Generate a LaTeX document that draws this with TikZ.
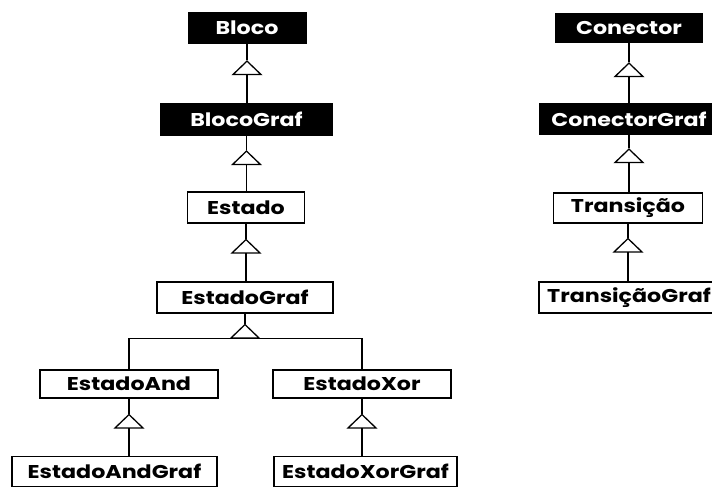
\documentclass[tikz,border=0pt]{standalone}
\usepackage{fontspec}
\setmainfont{Poppins}[FakeStretch=1.2]
\usetikzlibrary{arrows.meta}

\newcommand\classfont{\fontsize{18.5}{18.5}\selectfont\bfseries}
\newcommand\classline{1.3pt}

\tikzset{
  baseclass/.style={fill=black, text=white, font=\classfont, inner sep=0pt},
  subclass/.style={draw, line width=\classline, fill=white, font=\classfont, inner sep=0pt},
  link/.style={line width=\classline},
  inherit/.style={line width=\classline, {Triangle[open, length=15pt, width=31pt]}-},
}

\begin{document}
\begin{tikzpicture}[x=1pt,y=-1pt]
  \useasboundingbox (0,0) rectangle (712,487);

  % left hierarchy
  \node[baseclass, minimum width=119pt, minimum height=32pt] (bloco) at (247,28) {Bloco};
  \node[baseclass, minimum width=173pt, minimum height=33pt] (blocograf) at (246.5,119.5) {BlocoGraf};
  \node[subclass, minimum width=117pt, minimum height=31pt] (estado) at (246,207.5) {Estado};
  \node[subclass, minimum width=176pt, minimum height=31pt] (estadograf) at (245,297.5) {EstadoGraf};
  \node[subclass, minimum width=178pt, minimum height=28pt] (estadoand) at (129,384) {EstadoAnd};
  \node[subclass, minimum width=178pt, minimum height=28pt] (estadoxor) at (362,384) {EstadoXor};
  \node[subclass, minimum width=205pt, minimum height=30pt] (estadoandgraf) at (114.5,471.5) {EstadoAndGraf};
  \node[subclass, minimum width=183pt, minimum height=30pt] (estadoxorgraf) at (365.5,471.5) {EstadoXorGraf};

  \coordinate (tbloco) at ([yshift=-16pt]bloco.south);
  \coordinate (tblocograf) at ([yshift=-14pt]blocograf.south);
  \coordinate (testado) at ([yshift=-15pt]estado.south);
  \coordinate (testadograf) at ([yshift=-10pt]estadograf.south);
  \coordinate (bestadograf) at ([yshift=-15pt]testadograf);
  \coordinate (testadoand) at ([yshift=-15pt]estadoand.south);
  \coordinate (testadoxor) at ([yshift=-15pt]estadoxor.south);

  \draw[link] (bloco) -- (tbloco);
  \draw[inherit] (tbloco) -- (tbloco |- blocograf.north);
  \draw[link] (blocograf) -- (tblocograf);
  \draw[inherit] (tblocograf) -- (tblocograf |- estado.north);
  \draw[link] (estado) -- (testado);
  \draw[inherit] (testado) -- (testado |- estadograf.north);
  \draw[link] (estadograf) -- (testadograf);
  \draw[inherit] (testadograf) -- (bestadograf);
  \draw[link] (estadoand.north) |- (bestadograf) -| (estadoxor.north);
  \draw[link] (estadoand) -- (testadoand);
  \draw[inherit] (testadoand) -- (testadoand |- estadoandgraf.north);
  \draw[link] (estadoxor) -- (testadoxor);
  \draw[inherit] (testadoxor) -- (testadoxor |- estadoxorgraf.north);

  % right hierarchy
  \node[baseclass, minimum width=148pt, minimum height=30pt] (conector) at (629,28) {Conector};
  \node[baseclass, minimum width=180pt, minimum height=32pt] (conectorgraf) at (629,119) {ConectorGraf};
  \node[subclass, minimum width=149pt, minimum height=30pt] (transicao) at (628,208) {Transição};
  \node[subclass, minimum width=180pt, minimum height=31pt] (transicaograf) at (629,297.5) {TransiçãoGraf};

  \coordinate (tconector) at ([yshift=-19pt]conector.south);
  \coordinate (tconectorgraf) at ([yshift=-13pt]conectorgraf.south);
  \coordinate (ttransicao) at ([yshift=-14pt]transicao.south);

  \draw[link] (conector) -- (tconector);
  \draw[inherit] (tconector) -- (tconector |- conectorgraf.north);
  \draw[link] (conectorgraf) -- (tconectorgraf);
  \draw[inherit] (tconectorgraf) -- (tconectorgraf |- transicao.north);
  \draw[link] (transicao) -- (ttransicao);
  \draw[inherit] (ttransicao) -- (ttransicao |- transicaograf.north);
\end{tikzpicture}
\end{document}
